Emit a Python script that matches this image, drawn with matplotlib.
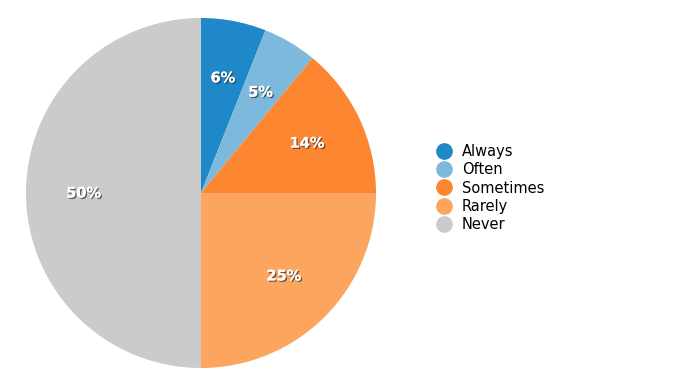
import matplotlib.pyplot as plt
import matplotlib.patheffects as pe
from matplotlib.lines import Line2D

labels = ["Always", "Often", "Sometimes", "Rarely", "Never"]
values = [6, 5, 14, 25, 50]
colors = ["#1f88c8", "#7db9dc", "#fd8631", "#fca55e", "#cbcbcb"]

fig = plt.figure(figsize=(6.74, 3.9), dpi=100)
ax = fig.add_axes([26 / 674, 22 / 390, 350 / 674, 350 / 390])

wedges, texts, autotexts = ax.pie(values, colors=colors, startangle=90, counterclock=False,
                                  autopct="%d%%", pctdistance=0.67, radius=1,
                                  wedgeprops=dict(linewidth=0))
for t in autotexts:
    t.set_color("white")
    t.set_fontsize(10.5)
    t.set_fontweight("bold")
    t.set_path_effects([pe.withSimplePatchShadow(offset=(1, -1), shadow_rgbFace="#333333", alpha=0.7),
                        pe.Normal()])
ax.set_xlim(-1, 1)
ax.set_ylim(-1, 1)

handles = [Line2D([], [], marker="o", linestyle="none", markersize=11,
                  markerfacecolor=c, markeredgecolor=c) for c in colors]
fig.legend(handles, labels, loc="center left", bbox_to_anchor=(437 / 674, 1 - 188 / 390),
           frameon=False, fontsize=10.5, labelspacing=0.22, handletextpad=0.7,
           handlelength=1.0, handleheight=0.7, borderpad=0, borderaxespad=0)

fig.savefig("out.png", dpi=100)
